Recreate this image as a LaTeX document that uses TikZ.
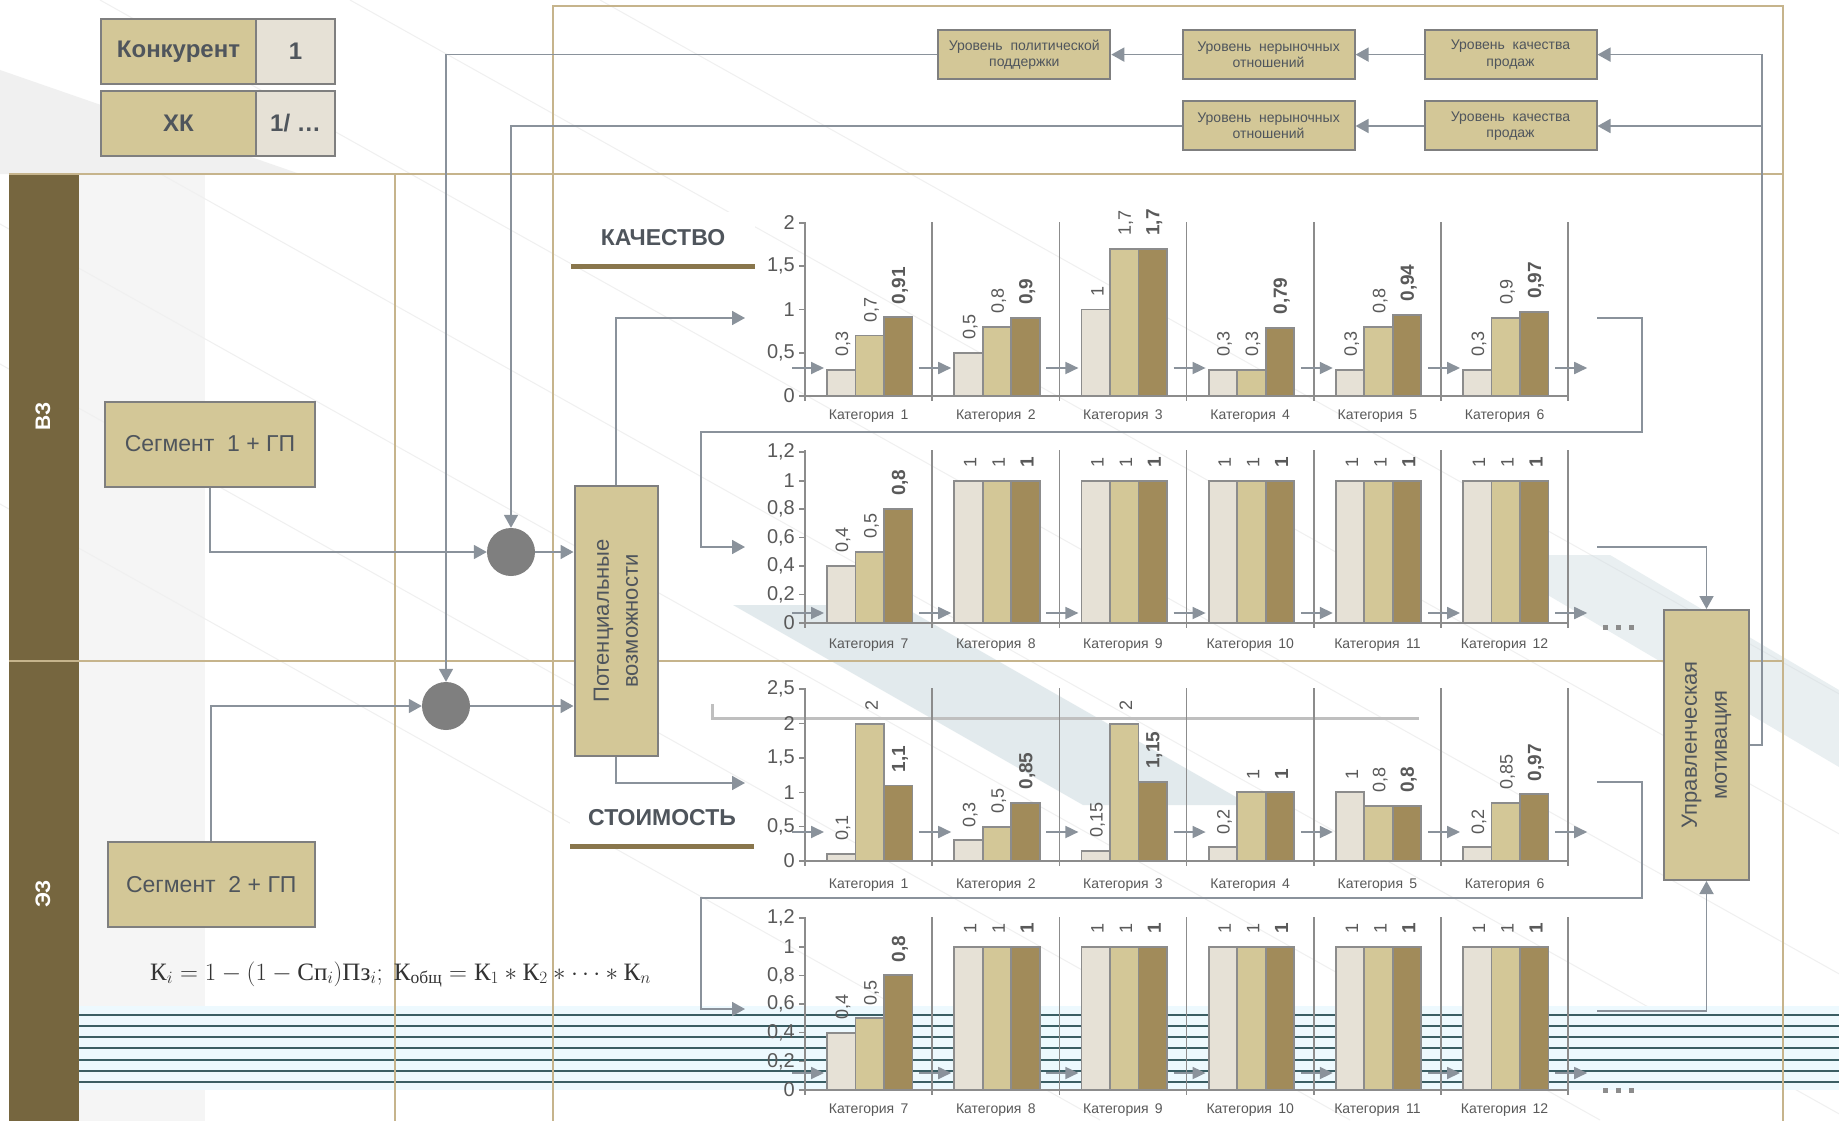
\documentclass[tikz,border=0pt]{standalone}
\usepackage{fontspec}
\usepackage{amsmath}
\setmainfont{Liberation Sans}
\newfontfamily\serifcyr{Liberation Serif}
\usetikzlibrary{arrows.meta,calc}
\definecolor{tanfill}{HTML}{D3C797}
\definecolor{lightbar}{HTML}{E6E1D6}
\definecolor{darkbar}{HTML}{A18B5A}
\definecolor{boxline}{HTML}{7F7F7F}
\definecolor{conncol}{HTML}{8A929B}
\definecolor{lanecol}{HTML}{C6B48C}
\definecolor{brownbar}{HTML}{76663F}
\definecolor{txt}{HTML}{4F555C}
\definecolor{axtxt}{HTML}{595959}
\definecolor{axiscol}{HTML}{8C8C8C}
\definecolor{circcol}{HTML}{7F7F7F}
\definecolor{bandcol}{HTML}{CFDCE1}
\definecolor{tealline}{HTML}{3A5E64}
\newcommand\fsz[2]{\fontsize{#1}{#2}\selectfont}
\tikzset{
 tanbox/.style={draw=boxline,line width=2pt,fill=tanfill,inner sep=0pt},
 lightbox/.style={draw=boxline,line width=2pt,fill=lightbar,inner sep=0pt},
 boxtext/.style={text=txt,align=center,inner sep=0pt},
 conn/.style={draw=conncol,line width=1.8pt,-{Triangle[length=13pt,width=14pt]}},
 plainline/.style={draw=conncol,line width=1.8pt},
 chartarr/.style={draw=conncol,line width=1.8pt,-{Triangle[length=13pt,width=12pt]}},
 axisline/.style={draw=axiscol,line width=1.6pt},
 barline/.style={draw=axiscol,line width=1.8pt},
 lane/.style={draw=lanecol,line width=2.4pt},
 ticklab/.style={anchor=east,inner sep=0pt,text=axtxt,font=\fsz{20}{22}},
 catlab/.style={inner sep=0pt,text=axtxt,font=\fsz{14}{16}},
 vlab/.style={rotate=90,anchor=west,inner sep=0pt,text=axtxt,font=\fsz{18}{20}},
 circ/.style={circle,fill=circcol,minimum size=48pt,inner sep=0pt},
 hdrbox/.style={fill=white,inner sep=0pt,minimum width=184pt,minimum height=52pt,text=txt,font=\bfseries\fsz{23}{26}},
}
% chart frame: #1 base y, #2 axis top y, #3 unit, #4 arrow y, #5 cat label y, #6 first category, #7 chart id
\newcommand{\chartframe}[7]{%
 \def\cb{#1}\def\cu{#3}\def\cid{#7}%
 \foreach \k in {0,...,6}{\draw[axisline] (805+127.2*\k,#2) -- (805+127.2*\k,#1+5);}
 \draw[axisline] (805,#1) -- (1568.2,#1);
 \foreach \k in {0,...,6}{\draw[chartarr] (805+127.2*\k-13,#4) -- (805+127.2*\k+19,#4);}
 \foreach \k in {0,...,5}{\pgfmathtruncatemacro\n{#6+\k}\node[catlab] (cl#7-\k) at (868.6+127.2*\k,#5) {Категория\hspace{0.45em}\n};}
}
\newcommand{\charticks}[1]{%
 \foreach \v/\l [count=\i] in {#1}{\draw[axisline] (799,\cb-\v*\cu) -- (805,\cb-\v*\cu); \node[ticklab] (tk\cid-\i) at (795,\cb-\v*\cu) {\l};}}
\newcommand{\barcat}[7]{%
 \pgfmathsetmacro\xa{805+127.2*#1+22}%
 \draw[barline,fill=lightbar] (\xa,\cb) rectangle ++(28.5,-#2*\cu);
 \draw[barline,fill=tanfill] (\xa+28.5,\cb) rectangle ++(28.5,-#3*\cu);
 \draw[barline,fill=darkbar] (\xa+57,\cb) rectangle ++(28.5,-#4*\cu);
 \node[vlab] (v\cid-#1-a) at (\xa+16,\cb-#2*\cu-13) {#5};
 \node[vlab] (v\cid-#1-b) at (\xa+44.5,\cb-#3*\cu-13) {#6};
 \node[vlab,font=\bfseries\fsz{19}{21}] (v\cid-#1-c) at (\xa+73,\cb-#4*\cu-13) {#7};
}
\begin{document}
\begin{tikzpicture}[x=1pt,y=-1pt]
\useasboundingbox (0,0) rectangle (1839,1121);
\fill[white] (0,0) rectangle (1839,1121);
% ---------- background decoration ----------
\fill[black!6] (0,70) -- (300,174) -- (0,174) -- cycle;
\fill[black!4] (79,174) rectangle (205,1121);
\foreach \x in {-900,-650,-400,-150,100,350,600}{\draw[black!6,line width=1pt] (\x,0) -- ++(2000,1120);}
\fill[bandcol,opacity=0.6] (733,605) -- (900,605) -- (1250,805) -- (1083,805) -- cycle;
\fill[bandcol,opacity=0.45] (1480,555) -- (1610,555) -- (1839,690) -- (1839,767) -- cycle;
\draw[black!25,line width=3pt] (712,704) -- (712,718) -- (1419,718);
\fill[cyan!7] (79,1006) rectangle (1839,1090);
\foreach \y in {1015,1026,1037,1048,1060,1071,1082}{\draw[tealline,line width=2pt] (79,\y) -- (1839,\y);}
% ---------- lanes ----------
\fill[brownbar] (9,174) rectangle (79,1121);
\draw[lane] (9,174) -- (1783,174);
\draw[lane] (9,661) -- (1783,661);
\draw[lane] (395,174) -- (395,1121);
\draw[lane] (553,1121) -- (553,6) -- (1783,6) -- (1783,1121);
\node[rotate=90,text=white,font=\bfseries\fsz{21}{24},inner sep=0pt] (vz) at (43,416) {ВЗ};
\node[rotate=90,text=white,font=\bfseries\fsz{21}{24},inner sep=0pt] (ez) at (43,894) {ЭЗ};
% ---------- top-left table ----------
\node[tanbox,minimum width=155pt,minimum height=65pt,boxtext,font=\bfseries\fsz{24}{26}] (konk) at (178.5,51.5) {Конкурент};
\node[lightbox,minimum width=79pt,minimum height=65pt,boxtext,font=\bfseries\fsz{24}{26}] (konkv) at (295.5,51.5) {1};
\node[tanbox,minimum width=155pt,minimum height=65pt,boxtext,font=\bfseries\fsz{24}{26}] (xk) at (178.5,123.5) {ХК};
\node[lightbox,minimum width=79pt,minimum height=65pt,boxtext,font=\bfseries\fsz{24}{26}] (xkv) at (295.5,123.5) {1/ \dots};
% ---------- top level boxes ----------
\node[tanbox,minimum width=172pt,minimum height=49pt,boxtext,font=\fsz{14}{16.5}] (pol) at (1024.3,54.6) {Уровень\ \ политической\\поддержки};
\node[tanbox,minimum width=172pt,minimum height=49pt,boxtext,font=\fsz{14}{16.5}] (ner1) at (1268.6,54.6) {Уровень\ \ нерыночных\\отношений};
\node[tanbox,minimum width=172pt,minimum height=49pt,boxtext,font=\fsz{14}{16.5}] (kach1) at (1510.5,54.6) {Уровень\ \ качества\\продаж};
\node[tanbox,minimum width=172pt,minimum height=49pt,boxtext,font=\fsz{14}{16.5}] (ner2) at (1268.6,126) {Уровень\ \ нерыночных\\отношений};
\node[tanbox,minimum width=172pt,minimum height=49pt,boxtext,font=\fsz{14}{16.5}] (kach2) at (1510.5,126) {Уровень\ \ качества\\продаж};
% ---------- segments, circles, potential, motivation ----------
\node[tanbox,minimum width=210pt,minimum height=85pt,boxtext,font=\fsz{23}{26}] (seg1) at (210,444) {Сегмент\ \ 1 + ГП};
\node[tanbox,minimum width=207pt,minimum height=85pt,boxtext,font=\fsz{23}{26}] (seg2) at (211.3,884.3) {Сегмент\ \ 2 + ГП};
\node[circ] (c1) at (511,552) {};
\node[circ] (c2) at (446,706) {};
\node[tanbox,minimum width=83pt,minimum height=270pt] (pot) at (616,621) {};
\node[rotate=90,boxtext,font=\fsz{22}{29}] (pottxt) at (pot.center) {Потенциальные\\возможности};
\node[tanbox,minimum width=85pt,minimum height=270pt] (motiv) at (1706.5,745) {};
\node[rotate=90,boxtext,font=\fsz{22}{30}] (motivtxt) at (motiv.center) {Управленческая\\мотивация};
% ---------- headers ----------
\node[hdrbox] (hq) at (663,238) {КАЧЕСТВО};
\fill[darkbar!85!black] (hq.south west) rectangle ($(hq.south east)+(0,5)$);
\node[hdrbox] (hc) at (662,818) {СТОИМОСТЬ};
\fill[darkbar!85!black] (hc.south west) rectangle ($(hc.south east)+(0,5)$);
% ---------- charts ----------
\chartframe{396}{222}{86.5}{368}{416}{1}{A}
\charticks{0/0,0.5/0{,}5,1/1,1.5/1{,}5,2/2}
\barcat{0}{0.3}{0.7}{0.91}{0,3}{0,7}{0,91}
\barcat{1}{0.5}{0.8}{0.9}{0,5}{0,8}{0,9}
\barcat{2}{1}{1.7}{1.7}{1}{1,7}{1,7}
\barcat{3}{0.3}{0.3}{0.79}{0,3}{0,3}{0,79}
\barcat{4}{0.3}{0.8}{0.94}{0,3}{0,8}{0,94}
\barcat{5}{0.3}{0.9}{0.97}{0,3}{0,9}{0,97}
\chartframe{623}{450}{142.3}{613}{645}{7}{B}
\charticks{0/0,0.2/0{,}2,0.4/0{,}4,0.6/0{,}6,0.8/0{,}8,1/1,1.2/1{,}2}
\barcat{0}{0.4}{0.5}{0.8}{0,4}{0,5}{0,8}
\foreach \q in {1,...,5}{\barcat{\q}{1}{1}{1}{1}{1}{1}}
\chartframe{861}{688}{68.7}{832}{885}{1}{C}
\charticks{0/0,0.5/0{,}5,1/1,1.5/1{,}5,2/2,2.5/2{,}5}
\barcat{0}{0.1}{2}{1.1}{0,1}{2}{1,1}
\barcat{1}{0.3}{0.5}{0.85}{0,3}{0,5}{0,85}
\barcat{2}{0.15}{2}{1.15}{0,15}{2}{1,15}
\barcat{3}{0.2}{1}{1}{0,2}{1}{1}
\barcat{4}{1}{0.8}{0.8}{1}{0,8}{0,8}
\barcat{5}{0.2}{0.85}{0.97}{0,2}{0,85}{0,97}
\chartframe{1090}{917}{143.3}{1073}{1110}{7}{D}
\charticks{0/0,0.2/0{,}2,0.4/0{,}4,0.6/0{,}6,0.8/0{,}8,1/1,1.2/1{,}2}
\barcat{0}{0.4}{0.5}{0.8}{0,4}{0,5}{0,8}
\foreach \q in {1,...,5}{\barcat{\q}{1}{1}{1}{1}{1}{1}}
% dots
\foreach \dx in {0,13,26}{\fill[axiscol] (1603+\dx,625) rectangle ++(5,5); \fill[axiscol] (1603+\dx,1088) rectangle ++(5,5);}
% ---------- formula ----------
\node[anchor=base west,inner sep=0pt,text=black!80,font=\fsz{25}{28}] (formula) at (150,980)
 {$\text{\serifcyr К}_i = 1 - (1 - \text{\serifcyr Сп}_i)\text{\serifcyr Пз}_i;\ \text{\serifcyr К}_{\text{\serifcyr общ}} = \text{\serifcyr К}_1 \ast \text{\serifcyr К}_2 \ast \cdots \ast \text{\serifcyr К}_n$};
% ---------- coordinates for chart connectors ----------
\coordinate (ch1in) at (745,318);
\coordinate (ch1out) at (1597,318);
\coordinate (lp1a) at (1642,432);
\coordinate (lp1b) at (701,432);
\coordinate (ch2in) at (745,547);
\coordinate (ch2out) at (1597,547);
\coordinate (ch3in) at (745,783);
\coordinate (ch3out) at (1597,782);
\coordinate (lp2a) at (1642,898);
\coordinate (lp2b) at (701,898);
\coordinate (ch4in) at (745,1009);
\coordinate (ch4out) at (1597,1011);
\coordinate (fbtop) at (1762,54.6);
\coordinate (fbmid) at (1762,126);
% ---------- connectors ----------
\draw[conn] (kach1.west) -- (ner1.east);
\draw[conn] (ner1.west) -- (pol.east);
\draw[conn] (kach2.west) -- (ner2.east);
\draw[conn] (motiv.east) -| (fbtop) -- (kach1.east);
\draw[conn] (fbmid) -- (kach2.east);
\draw[conn] (pol.west) -| (c2.north);
\draw[conn] (ner2.west) -| (c1.north);
\draw[conn] (seg1.south) |- (c1.west);
\draw[conn] (seg2.north) |- (c2.west);
\draw[conn] (c1.east) -- (c1.east -| pot.west);
\draw[conn] (c2.east) -- (c2.east -| pot.west);
\draw[conn] (pot.north) |- (ch1in);
\draw[conn] (pot.south) |- (ch3in);
\draw[conn] (ch1out) -| (lp1a) -- (lp1b) |- (ch2in);
\draw[conn] (ch3out) -| (lp2a) -- (lp2b) |- (ch4in);
\draw[conn] (ch2out) -| (motiv.north);
\draw[conn] (ch4out) -| (motiv.south);
\end{tikzpicture}
\end{document}
